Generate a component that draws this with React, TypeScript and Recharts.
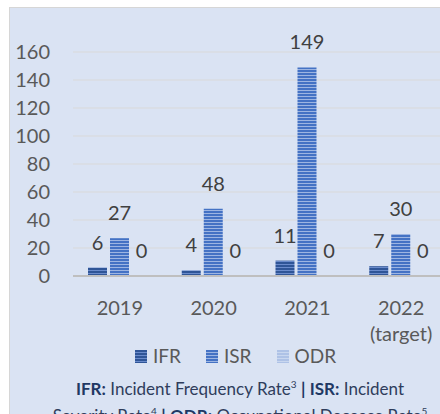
import { BarChart, Bar, XAxis, YAxis, CartesianGrid, LabelList } from 'recharts';

const years = ['2019', '2020', '2021', '2022 (target)'];
const ifr = [6, 4, 11, 7];
const isr = [27, 48, 149, 30];
const odr = [0, 0, 0, 0];
const yTicks = [0, 20, 40, 60, 80, 100, 120, 140, 160];

const series = [
  { key: 'IFR', values: ifr, base: '#2f5597', stripe: '#6a8bcb' },
  { key: 'ISR', values: isr, base: '#4472c4', stripe: '#9db5e2' },
  { key: 'ODR', values: odr, base: '#aec2e6', stripe: '#c9d7ef' },
];

const data = years.map((year, i) => ({
  year,
  IFR: ifr[i],
  ISR: isr[i],
  ODR: odr[i],
}));

const FONT = 'Lato, "Open Sans", sans-serif';

function YearTick(props: any) {
  const { x, y, payload } = props;
  const lines = String(payload.value).split(' ');
  return (
    <text x={x} y={y} textAnchor="middle" fill="#595959" fontSize={20} fontFamily={FONT}>
      {lines.map((line, i) => (
        <tspan key={i} x={x} dy={i === 0 ? 39 : 26}>
          {line}
        </tspan>
      ))}
    </text>
  );
}

function StripeDefs({ prefix }: { prefix: string }) {
  return (
    <defs>
      {series.map((s) => (
        <pattern
          key={s.key}
          id={`${prefix}${s.key}`}
          width="4"
          height="3"
          patternUnits="userSpaceOnUse"
        >
          <rect width="4" height="3" fill={s.base} />
          <rect y="2" width="4" height="1" fill={s.stripe} />
        </pattern>
      ))}
    </defs>
  );
}

export default function App() {
  return (
    <div
      style={{
        position: 'absolute',
        left: 0,
        top: 0,
        width: 440,
        height: 414,
        overflow: 'hidden',
        background: '#ffffff',
        fontFamily: FONT,
      }}
    >
      {/* panel */}
      <div
        style={{
          position: 'absolute',
          left: 9,
          top: 7,
          width: 470,
          height: 420,
          background: '#dae3f3',
          border: '1px solid #d6d6d6',
        }}
      />

      <div style={{ position: 'absolute', left: 9, top: 7 }}>
        <BarChart
          width={439}
          height={349}
          data={data}
          margin={{ top: 45, right: 0, bottom: 0, left: 0 }}
          barSize={19}
          barGap={3}
          style={{ overflow: 'visible' }}
        >
          <StripeDefs prefix="bar" />
          <CartesianGrid vertical={false} stroke="#d9d9d9" strokeWidth={1} />
          <XAxis
            dataKey="year"
            height={80}
            tickLine={false}
            tickSize={0}
            tickMargin={0}
            axisLine={{ stroke: '#bfbfbf', strokeWidth: 2 }}
            tick={<YearTick />}
            interval={0}
          />
          <YAxis
            width={64}
            domain={[0, 160]}
            ticks={yTicks}
            axisLine={false}
            tickLine={false}
            tickSize={0}
            tickMargin={23}
            tick={{ fill: '#595959', fontSize: 20, fontFamily: FONT }}
          />
          {series.map((s) => (
            <Bar
              key={s.key}
              dataKey={s.key}
              fill={`url(#bar${s.key})`}
              minPointSize={0.01}
              isAnimationActive={false}
            >
              <LabelList
                dataKey={s.key}
                position="top"
                offset={18}
                fill="#404040"
                fontSize={20}
                fontFamily={FONT}
              />
            </Bar>
          ))}
        </BarChart>
      </div>

      {/* legend */}
      <div
        style={{
          position: 'absolute',
          left: 135,
          top: 345,
          height: 22,
          display: 'flex',
          alignItems: 'center',
          fontSize: 19,
          color: '#595959',
          lineHeight: '22px',
        }}
      >
        {series.map((s, i) => (
          <div
            key={s.key}
            style={{ display: 'flex', alignItems: 'center', marginLeft: i === 0 ? 0 : 25 }}
          >
            <svg width={12} height={13} style={{ display: 'block' }}>
              <StripeDefs prefix={`lg${s.key}`} />
              <rect width={12} height={13} fill={`url(#lg${s.key}${s.key})`} />
            </svg>
            <span style={{ marginLeft: 6 }}>{s.key}</span>
          </div>
        ))}
      </div>

      {/* footnote */}
      <div
        style={{
          position: 'absolute',
          left: 0,
          top: 373,
          width: 480,
          textAlign: 'center',
          fontSize: 17,
          lineHeight: '23px',
          color: '#2f3d5c',
          whiteSpace: 'nowrap',
        }}
      >
        <b style={{ color: '#1f3864' }}>IFR:</b> Incident Frequency Rate<sup style={{ fontSize: 10 }}>3</sup>{' '}
        <b style={{ color: '#1f3864' }}>|</b> <b style={{ color: '#1f3864' }}>ISR:</b> Incident
        <br />
        Severity Rate<sup style={{ fontSize: 10 }}>4</sup> <b style={{ color: '#1f3864' }}>|</b>{' '}
        <b style={{ color: '#1f3864' }}>ODR:</b> Occupational Decease Rate<sup style={{ fontSize: 10 }}>5</sup>
      </div>
    </div>
  );
}
